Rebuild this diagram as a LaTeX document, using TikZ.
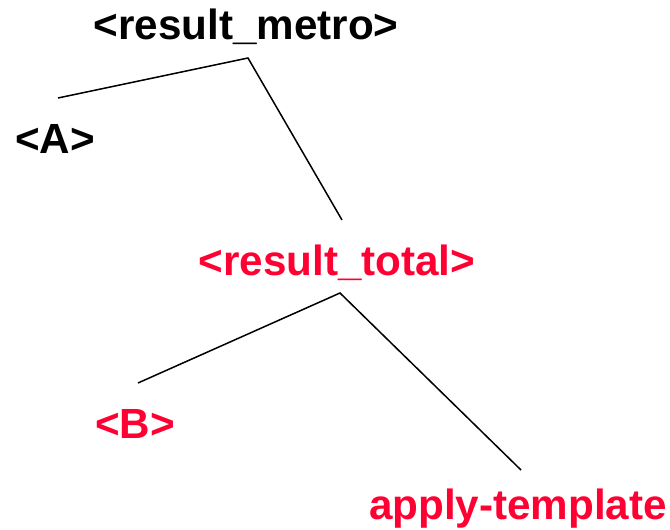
\documentclass[tikz,border=0pt]{standalone}
\usepackage{fontspec}
\setmainfont{Liberation Sans}
\usetikzlibrary{positioning}

\definecolor{tagred}{RGB}{255,0,51}
\tikzset{
  tag/.style={font=\fontsize{42.2}{46}\selectfont\bfseries, inner sep=0pt},
  redtag/.style={tag, text=tagred},
  branch/.style={line width=1.5pt}
}

\begin{document}
\begin{tikzpicture}[x=1pt, y=-1pt]

   \useasboundingbox (0,0) rectangle (670,530);

    % Nodes of the tree
    \node[tag] (metro) at (246,27) {<result\_metro>};
    \node[tag] (a) at (55,139) {<A>};
    \node[redtag] (total) at (337,263) {<result\_total>};
    \node[redtag] (b) at (135,424) {<B>};
    \node[redtag] (apply) at (518,509) {apply-template};

    % Branch points
    \coordinate (metro-top) at (248,58);
    \coordinate (a-top) at (58,98);
    \coordinate (total-top) at (342,220);
    \coordinate (total-bot) at (340,293);
    \coordinate (b-top) at (138,383);
    \coordinate (apply-top) at (521,470);

    % Branches
    \draw[branch] (a-top) -- (metro-top) -- (total-top);
    \draw[branch] (b-top) -- (total-bot) -- (apply-top);

  \end{tikzpicture}
\end{document}
